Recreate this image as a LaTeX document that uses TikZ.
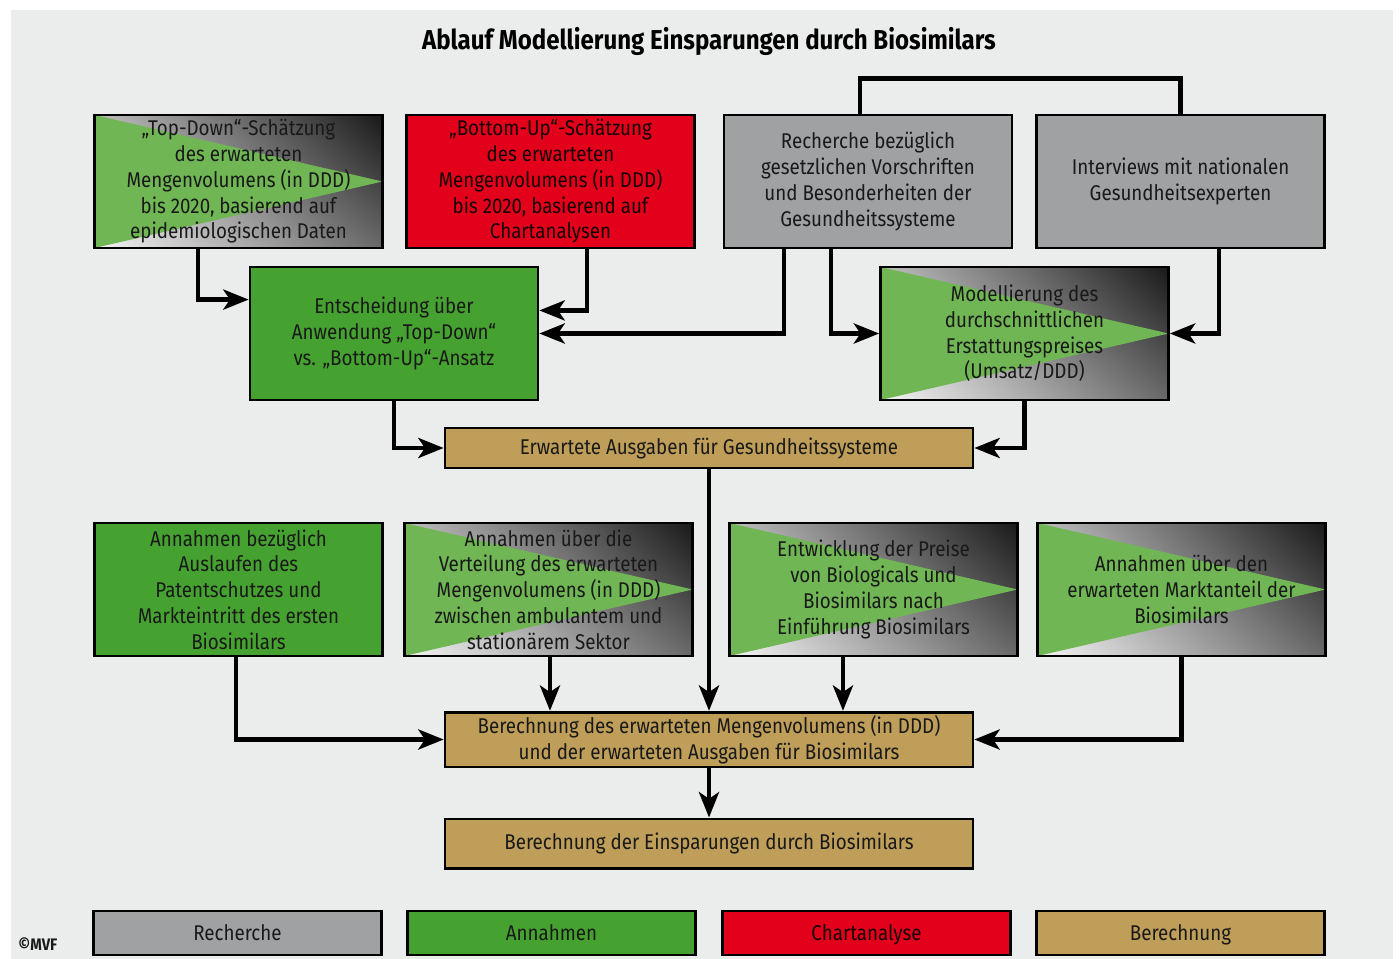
\documentclass[tikz,border=0pt]{standalone}
\usepackage{fontspec}
\setmainfont{Fira Sans}[FakeStretch=0.88]
\usetikzlibrary{arrows.meta,calc,shadings}

\definecolor{bgcol}{RGB}{235,237,236}
\definecolor{grcol}{RGB}{70,162,48}
\definecolor{trcol}{RGB}{112,182,84}
\definecolor{rdcol}{RGB}{226,0,26}
\definecolor{gycol}{RGB}{160,161,163}
\definecolor{tncol}{RGB}{190,158,88}
\definecolor{txcol}{RGB}{25,25,25}
\definecolor{rtxcol}{RGB}{20,0,2}
\definecolor{shul}{RGB}{190,190,190}
\definecolor{shur}{RGB}{25,25,25}
\definecolor{shll}{RGB}{245,245,245}
\definecolor{shlr}{RGB}{105,105,105}

\tikzset{every picture/.style={line width=0.75pt}}
\tikzset{
  box/.style={draw=black, line width=2pt, minimum width=216pt, minimum height=99.75pt,
    align=center, inner sep=0pt, text=txcol, font=\fontsize{16pt}{19.3pt}\selectfont},
  grbox/.style={box, fill=grcol},
  rdbox/.style={box, fill=rdcol, text=rtxcol},
  gybox/.style={box, fill=gycol},
  tnbox/.style={box, fill=tncol},
  widebox/.style={minimum width=396pt},
  legbox/.style={minimum height=33pt, text height=13pt, text depth=2pt},
  shbox/.style={box, path picture={
    \shade[upper left=shul, upper right=shur, lower left=shll, lower right=shlr]
      (path picture bounding box.south west) rectangle (path picture bounding box.north east);
    \fill[trcol] (path picture bounding box.north west) -- (path picture bounding box.east)
      -- (path picture bounding box.south west) -- cycle;
  }},
  conn/.style={draw=black, line width=3.6pt, -{Stealth[length=19pt,width=15pt,inset=5pt]}},
  link/.style={draw=black, line width=3.6pt}
}

\begin{document}
\begin{tikzpicture}[x=0.75pt,y=0.75pt,yscale=-1,xscale=1]
\useasboundingbox (0,0) rectangle (1399,959);
\fill[white] (0,0) rectangle (1399,959);
\fill[bgcol] (11,10) rectangle (1393,959);

% Title
\node (title) at (709,41) {\fontsize{20.5pt}{24pt}\selectfont\bfseries Ablauf Modellierung Einsparungen durch Biosimilars};

% first row
\node[shbox] (topdown) at (238.5,181.5) {„Top-Down“-Schätzung\\des erwarteten\\Mengenvolumens (in DDD)\\bis 2020, basierend auf\\epidemiologischen Daten};
\node[rdbox] (bottomup) at (550.5,181.5) {„Bottom-Up“-Schätzung\\des erwarteten\\Mengenvolumens (in DDD)\\bis 2020, basierend auf\\Chartanalysen};
\node[gybox] (recherche) at (868,181.5) {Recherche bezüglich\\gesetzlichen Vorschriften\\und Besonderheiten der\\Gesundheitssysteme};
\node[gybox] (interviews) at (1180.5,181.5) {Interviews mit nationalen\\Gesundheitsexperten};

% second row
\node[grbox] (decide) at (394,333.5) {Entscheidung über\\Anwendung „Top-Down“\\vs. „Bottom-Up“-Ansatz};
\node[shbox] (model) at (1024.5,333.5) {Modellierung des\\durchschnittlichen\\Erstattungspreises\\(Umsatz/DDD)};

\node[tnbox, widebox, minimum height=30pt] (expend) at (709,448) {Erwartete Ausgaben für Gesundheitssysteme};

% third row
\node[grbox] (patent) at (238.5,589.5) {Annahmen bezüglich\\Auslaufen des\\Patentschutzes und\\Markteintritt des ersten\\Biosimilars};
\node[shbox] (distrib) at (548.5,589.5) {Annahmen über die\\Verteilung des erwarteten\\Mengenvolumens (in DDD)\\zwischen ambulantem und\\stationärem Sektor};
\node[shbox] (prices) at (873.5,589.5) {Entwicklung der Preise\\von Biologicals und\\Biosimilars nach\\Einführung Biosimilars};
\node[shbox] (share) at (1181.5,589.5) {Annahmen über den\\erwarteten Marktanteil der\\Biosimilars};

\node[tnbox, widebox, minimum height=41pt] (volume) at (709,739.5) {Berechnung des erwarteten Mengenvolumens (in DDD)\\und der erwarteten Ausgaben für Biosimilars};
\node[tnbox, widebox, minimum height=37pt] (savings) at (709,843.5) {Berechnung der Einsparungen durch Biosimilars};

% legend
\node[gybox, legbox] (legrech) at (237.5,933) {Recherche};
\node[grbox, legbox] (legannah) at (551.5,933) {Annahmen};
\node[rdbox, legbox] (legchart) at (866.5,933) {Chartanalyse};
\node[tnbox, legbox] (legcalc) at (1180.5,933) {Berechnung};
\node[anchor=west, inner sep=0pt, text=txcol] (mvf) at (18,944) {\fontsize{12.5pt}{14pt}\selectfont\bfseries ©MVF};

% connectors
\draw[link] ([xshift=-6pt]recherche.north) -- ++(0,-35) -| (interviews.north);
\draw[conn] ([xshift=-30.4pt]topdown.south) |- ($(decide.north west)!0.25!(decide.south west)$);
\draw[conn] ([xshift=27.4pt]bottomup.south) |- ($(decide.north east)!0.33!(decide.south east)$);
\draw[conn] ([xshift=-63pt]recherche.south) |- (decide.east);
\draw[conn] ([xshift=-27.8pt]recherche.south) |- (model.west);
\draw[conn] ([xshift=28.9pt]interviews.south) |- (model.east);
\draw[conn] (decide.south) |- (expend.west);
\draw[conn] (model.south) |- (expend.east);
\draw[conn] (expend.south) -- (volume.north);
\draw[conn] ([xshift=-1.9pt]patent.south) |- (volume.west);
\draw[conn] ([xshift=1.1pt]distrib.south) -- ([xshift=1.1pt]distrib.south |- volume.north);
\draw[conn] ([xshift=-22.9pt]prices.south) -- ([xshift=-22.9pt]prices.south |- volume.north);
\draw[conn] (share.south) |- (volume.east);
\draw[conn] (volume.south) -- (savings.north);

\end{tikzpicture}
\end{document}
